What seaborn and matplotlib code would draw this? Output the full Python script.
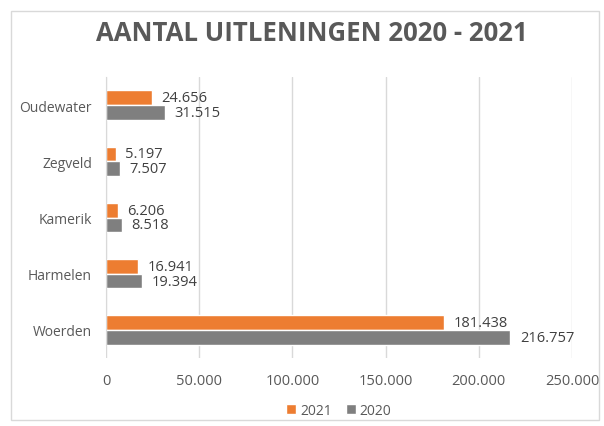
import pandas as pd
import numpy as np
import matplotlib.pyplot as plt
import seaborn as sns
from matplotlib.ticker import FuncFormatter

# data
plaatsen = ['Oudewater', 'Zegveld', 'Kamerik', 'Harmelen', 'Woerden']
uit_2021 = [24656, 5197, 6206, 16941, 181438]
uit_2020 = [31515, 7507, 8518, 19394, 216757]
jaren = ['2021', '2020']
kleuren = {'2021': '#ED7D31', '2020': '#7F7F7F'}

df = pd.DataFrame({
    'plaats': plaatsen * 2,
    'jaar': ['2021'] * len(plaatsen) + ['2020'] * len(plaatsen),
    'aantal': uit_2021 + uit_2020,
})

def nl_getal(x, pos=None):
    return f'{int(round(x)):,}'.replace(',', '.')

sns.set_style('white')
plt.rcParams['font.family'] = ['Open Sans', 'DejaVu Sans']

fig = plt.figure(figsize=(6.04, 4.27), dpi=100)
ax = fig.add_axes([106 / 604, 1 - 359 / 427, (572 - 106) / 604, (359 - 78) / 427])

sns.barplot(data=df, y='plaats', x='aantal', hue='jaar', order=plaatsen,
            hue_order=jaren, palette=kleuren, orient='h', width=0.52,
            saturation=1, ax=ax, legend=True)

# waarden naast de balken
for cont in ax.containers:
    ax.bar_label(cont, labels=[nl_getal(v) for v in cont.datavalues],
                 padding=7, fontsize=10.5, color='#404040')

ax.set_xlim(0, 250000)
ax.set_xticks(np.arange(0, 250001, 50000))
ax.xaxis.set_major_formatter(FuncFormatter(nl_getal))
ax.set_xlabel('')
ax.set_ylabel('')
ax.grid(axis='x', color='#D9D9D9', linewidth=1)
ax.set_axisbelow(True)
for s in ['top', 'right', 'bottom']:
    ax.spines[s].set_visible(False)
ax.spines['left'].set_color('#D9D9D9')
ax.spines['left'].set_bounds(-0.5, 4.27)
ax.tick_params(axis='both', length=0, labelcolor='#595959')
ax.tick_params(axis='x', labelsize=10.5, pad=11)
ax.tick_params(axis='y', labelsize=10, pad=10)

leg = ax.legend(loc='upper center', bbox_to_anchor=(0.5, -0.115), ncol=2,
                frameon=False, fontsize=10, handlelength=0.7, handleheight=0.7,
                columnspacing=1.0, handletextpad=0.3, labelcolor='#595959')

fig.suptitle('AANTAL UITLENINGEN 2020 - 2021', x=0.517, y=0.952,
             fontsize=18.5, fontweight='bold', color='#595959')

# rand rond de grafiek
fig.patches.append(plt.Rectangle((11 / 604, 6 / 427), 588 / 604, 409 / 427, transform=fig.transFigure,
                                 fill=False, edgecolor='#D9D9D9', linewidth=1))

fig.savefig('out.png', dpi=100)
